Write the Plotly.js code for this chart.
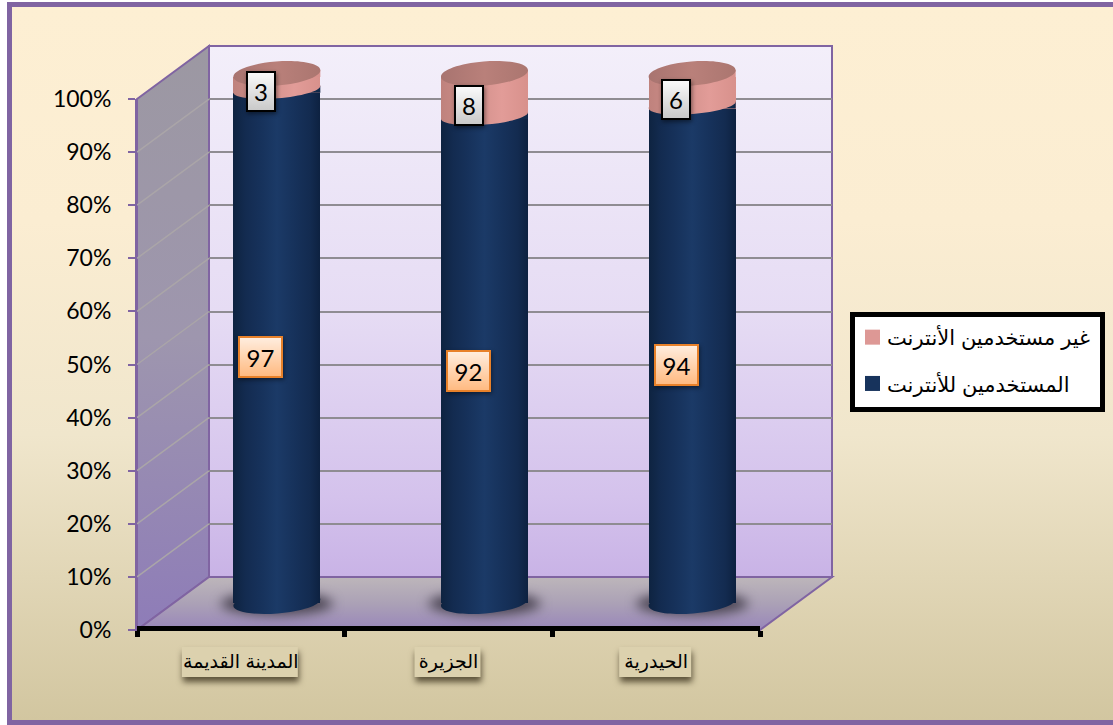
<!DOCTYPE html>
<html><head><meta charset="utf-8">
<script src="https://cdn.plot.ly/plotly-3.0.1.min.js"></script>
<style>html,body{margin:0;padding:0;background:#fff}#c{width:1113px;height:725px}</style>
</head><body><div id="c"></div>
<script>
const categories = ['المدينة القديمة','الجزيرة','الحيدرية'];
const usersName = 'المستخدمين للأنترنت';
const nonUsersName = 'غير مستخدمين الأنترنت';
const users = [97,92,94];
const nonUsers = [3,8,6];
const yTicks = [0,10,20,30,40,50,60,70,80,90,100];
const W=1113,H=725;
const px=x=>x/W, py=y=>1-y/H;
// geometry
const F={l:137,r:760,t:99,b:630}, D={dx:72,dy:-53};
const B={l:F.l+36,r:F.r+36,t0:77,b0:603};           // bars: 100% at t0, 0% at b0
const pad=10, sc=(B.b0-B.t0)/100;
const barW=0.419, hw=barW/2;
const unitX=(F.r-F.l)/3;
const poly=(pts)=>'M'+pts.map(p=>px(p[0])+','+py(p[1])).join('L')+'Z';
const shapes=[], grads={};
function add(s,g){shapes.push(s); if(g) grads[shapes.length-1]=g;}
const PUR='#8064a2';
// page background + frame
add({type:'rect',xref:'paper',yref:'paper',x0:px(7),x1:px(1130),y0:py(725),y1:py(2),fillcolor:PUR,line:{width:0},layer:'below'});
add({type:'rect',xref:'paper',yref:'paper',x0:px(12),x1:px(1130),y0:py(720),y1:py(7),fillcolor:'#f4e9d0',line:{width:0},layer:'below'},'gBg');
// back wall
add({type:'path',xref:'paper',yref:'paper',path:poly([[F.l+D.dx,F.t+D.dy],[F.r+D.dx,F.t+D.dy],[F.r+D.dx,F.b+D.dy],[F.l+D.dx,F.b+D.dy]]),fillcolor:'#e0d4f0',line:{color:PUR,width:2},layer:'below'},'gWall');
// side wall
add({type:'path',xref:'paper',yref:'paper',path:poly([[F.l,F.t],[F.l+D.dx,F.t+D.dy],[F.l+D.dx,F.b+D.dy],[F.l,F.b]]),fillcolor:'#9a92a8',line:{color:PUR,width:2},layer:'below'},'gSide');
// side wall grid
const fy=v=>F.b-(F.b-F.t)*v/100;
yTicks.filter(v=>v>0&&v<100).forEach(v=>{
  add({type:'line',xref:'paper',yref:'paper',x0:px(F.l),y0:py(fy(v)),x1:px(F.l+D.dx),y1:py(fy(v)+D.dy),line:{color:'#aaa5a8',width:1.5},layer:'below'});
});
// floor
add({type:'path',xref:'paper',yref:'paper',path:poly([[F.l,F.b],[F.r,F.b],[F.r+D.dx,F.b+D.dy],[F.l+D.dx,F.b+D.dy]]),fillcolor:'#a89cb8',line:{color:PUR,width:2},layer:'below'},'gFloor');
// boxes behind category labels
const boxW=[116,66,72];
categories.forEach((c,i)=>{
  const cx=F.l+unitX*(i+.5)-1;
  add({type:'rect',xref:'paper',yref:'paper',x0:px(cx-boxW[i]/2),x1:px(cx+boxW[i]/2),y0:py(677),y1:py(647),fillcolor:'#dcd1ae',line:{width:0},layer:'below'},'shadow');
});
// floor shadows
categories.forEach((c,i)=>{
  add({type:'circle',xref:'x3',yref:'y3',x0:i-0.27,x1:i+0.27,y0:-2.3,y1:2.0,fillcolor:'#4a4452',line:{width:0},layer:'below'},'blur');
});
// cylinder ends: cubic-bezier ellipse, tilted up to the right; y is the left rim in data units
const rise=7, TH=Math.atan2(3.5,43.5), a=Math.hypot(43.5,3.5), K=0.5523;
function ell(i,y,b){
  const cx=i, cy=y+(rise/2)/sc;
  const P=(u,v)=>{const X=u*Math.cos(TH)-v*Math.sin(TH),Y=u*Math.sin(TH)+v*Math.cos(TH);return (cx+X/unitX)+' '+(cy+Y/sc);};
  let d='M'+P(-a,0);
  d+=`C${P(-a,-K*b)} ${P(-K*a,-b)} ${P(0,-b)}C${P(K*a,-b)} ${P(a,-K*b)} ${P(a,0)}`;
  d+=`C${P(a,K*b)} ${P(K*a,b)} ${P(0,b)}C${P(-K*a,b)} ${P(-a,K*b)} ${P(-a,0)}`;
  return d+'Z';
}
categories.forEach((c,i)=>{
  const L=i-hw,R=i+hw;
  const ys=users[i], yt=users[i]+nonUsers[i];
  // bottom
  add({type:'path',xref:'x3',yref:'y3',layer:'above',line:{width:0},fillcolor:'#17335c',path:ell(i,-3/sc,11)},'gNavy');
  // seam
  add({type:'path',xref:'x3',yref:'y3',layer:'above',line:{width:0},fillcolor:'#10294a',
    path:`M${L} ${ys}L${R} ${ys+rise/sc}L${R} ${ys}Z`});
  add({type:'path',xref:'x3',yref:'y3',layer:'above',line:{width:0},fillcolor:'#dd9895',path:ell(i,ys,9)},'gPink');
  // top
  add({type:'path',xref:'x3',yref:'y3',layer:'above',line:{width:0},fillcolor:'#d8918c',
    path:`M${L} ${yt}L${R} ${yt+rise/sc}L${R} ${yt}Z`});
  add({type:'path',xref:'x3',yref:'y3',layer:'above',line:{width:0},fillcolor:'#b27b76',path:ell(i,yt,12)},'gCap');
});
// labels
const annotations=[];
categories.forEach((c,i)=>{
  annotations.push({xref:'x2',yref:'y2',x:c,y:users[i]/2,text:String(users[i]),xshift:20,yshift:15,showarrow:false,
    width:41,height:38,bgcolor:'#ffd3ac',bordercolor:'#e8812a',borderwidth:2,borderpad:0,font:{family:'Lato, "Open Sans", sans-serif',size:24,color:'#000'}});
  annotations.push({xref:'x2',yref:'y2',x:c,y:users[i]+nonUsers[i]/2,text:String(nonUsers[i]),xshift:20,yshift:15,showarrow:false,
    width:26,height:37,bgcolor:'#e6e6e6',bordercolor:'#000',borderwidth:2,borderpad:0,font:{family:'Lato, "Open Sans", sans-serif',size:24,color:'#000'}});
});
const traces=[
 {type:'scatter',mode:'none',x:[0],y:[0],xaxis:'x',yaxis:'y',showlegend:false,hoverinfo:'skip'},
 {type:'scatter',mode:'none',x:categories,y:users,xaxis:'x2',yaxis:'y2',showlegend:false,hoverinfo:'skip'},
 {type:'bar',x:categories,y:users,name:usersName,xaxis:'x3',yaxis:'y3',width:barW,marker:{color:'#17335c',line:{width:0}},legendgroup:'a',legendrank:2,hoverinfo:'skip'},
 {type:'bar',x:categories,y:nonUsers,name:nonUsersName,xaxis:'x3',yaxis:'y3',width:barW,marker:{color:'#dd9895',line:{width:0}},legendgroup:'b',legendrank:1,hoverinfo:'skip'}
];
const layout={
 width:W,height:H,margin:{l:0,r:0,t:0,b:0},autosize:false,paper_bgcolor:'#ffffff',plot_bgcolor:'rgba(0,0,0,0)',
 barmode:'stack',barnorm:'percent',
 font:{family:'Lato, "Open Sans", sans-serif',color:'#000'},
 // back-wall grid
 xaxis:{domain:[px(F.l+D.dx),px(F.r+D.dx)],range:[0,3],showgrid:false,zeroline:false,showticklabels:false,ticks:'',showline:false,anchor:'y'},
 yaxis:{domain:[py(F.b+D.dy),py(F.t+D.dy)],range:[0,100],tickmode:'array',tickvals:yTicks.filter(v=>v>0),showgrid:true,gridcolor:'#8f8c92',gridwidth:2,zeroline:false,showticklabels:false,ticks:'',showline:false,anchor:'x'},
 // front axes
 xaxis2:{domain:[px(F.l),px(F.r)],type:'category',categoryorder:'array',categoryarray:categories,range:[-.5,2.5],anchor:'free',position:py(628),showgrid:false,zeroline:false,
   tickson:'boundaries',ticks:'outside',ticklen:6,tickwidth:5,tickcolor:'#000',showline:true,linecolor:'#000',linewidth:5,tickangle:0,ticklabelstandoff:14,
   tickfont:{family:'"Liberation Sans","DejaVu Sans",sans-serif',size:19,color:'#000'}},
 yaxis2:{domain:[py(F.b),py(F.t)],range:[0,100],tickmode:'array',tickvals:yTicks,ticktext:yTicks.map(v=>v+'%'),anchor:'x2',showgrid:false,zeroline:false,
   ticks:'outside',ticklen:7,tickwidth:2,tickcolor:PUR,showline:true,linecolor:PUR,linewidth:2,ticklabelstandoff:12,tickfont:{family:'Lato, "Open Sans", sans-serif',size:23,color:'#000'}},
 // bars (shifted into the depth of the box)
 xaxis3:{domain:[px(B.l),px(B.r)],type:'category',categoryorder:'array',categoryarray:categories,range:[-.5,2.5],anchor:'y3',visible:false},
 yaxis3:{domain:[py(B.b0+pad*sc),py(B.t0-pad*sc)],range:[-pad,100+pad],anchor:'x3',visible:false},
 showlegend:true,
 legend:{x:px(850),y:py(312),xanchor:'left',yanchor:'top',bgcolor:'#fff',bordercolor:'#000',borderwidth:5,
   traceorder:'grouped',tracegroupgap:16,font:{family:'"Liberation Sans","DejaVu Sans",sans-serif',size:21,color:'#000'}},
 shapes,annotations
};
Plotly.newPlot('c',traces,layout,{displayModeBar:false,responsive:false}).then(()=>{
  const svg=document.querySelector('.main-svg');
  const ns='http://www.w3.org/2000/svg';
  let defs=svg.querySelector('defs');
  const mk=(id,stops,horiz)=>{
    const g=document.createElementNS(ns,'linearGradient');
    g.setAttribute('id',id);g.setAttribute('x1','0');g.setAttribute('y1','0');
    g.setAttribute('x2',horiz?'1':'0');g.setAttribute('y2',horiz?'0':'1');
    stops.forEach(s=>{const e=document.createElementNS(ns,'stop');e.setAttribute('offset',s[0]);e.setAttribute('stop-color',s[1]);g.appendChild(e);});
    defs.appendChild(g);
  };
  mk('gBg',[[0,'#fdefd3'],[.3,'#fbedd2'],[.6,'#f0e6cc'],[1,'#d2c6a0']]);
  mk('gWall',[[0,'#f3effa'],[.5,'#e6dcf4'],[.85,'#d4c2ec'],[1,'#c9b3e6']]);
  mk('gSide',[[0,'#9c98a2'],[.5,'#9e96ae'],[1,'#8e7cb8']]);
  mk('gFloor',[[0,'#bdb6ba'],[.5,'#aba1b6'],[1,'#9986ba']]);
  const navy=[[0,'#0e2340'],[.14,'#132b50'],[.3,'#16315a'],[.5,'#1b3a67'],[.72,'#16315a'],[.88,'#132b50'],[1,'#0d2140']];
  mk('gNavy',navy,true);
  mk('gPink',[[0,'#bf827d'],[.35,'#cf8f8a'],[.7,'#e29c98'],[1,'#d8918c']],true);
  mk('gCap',[[0,'#a87470'],[.5,'#b9807a'],[1,'#ab7670']],true);
  mk('gGray',[[0,'#fbfbfb'],[1,'#c8c8c8']]);
  mk('gOrange',[[0,'#ffeee0'],[1,'#ffb97f']]);
  Object.keys(grads).forEach(i=>{
    const el=document.querySelector(`.shapelayer path[data-index="${i}"]`);
    if(!el) return;
    const g=grads[i];
    if(g==='shadow') el.style.filter='drop-shadow(1px 5px 3px rgba(50,40,20,.75))';
    else if(g==='blur') el.style.filter='blur(6px)';
    else el.style.fill=`url(#${g})`;
  });
  document.querySelectorAll('.barlayer .trace').forEach((t,i)=>{
    t.querySelectorAll('.point path').forEach(p=>{p.style.fill=`url(#${i===0?'gNavy':'gPink'})`;});
  });
  document.querySelectorAll('.annotation .bg').forEach(r=>{
    const orange=/e8812a|232, *129, *42/.test(r.style.stroke||'');
    r.style.fill=`url(#${orange?'gOrange':'gGray'})`;
    r.style.filter='drop-shadow(1px 2px 2px rgba(0,0,0,.45))';
  });
  // legend fine-tuning: larger swatches, text closer to them, box size as in the reference
  document.querySelectorAll('.legend .legendpoints path').forEach(p=>{
    const t=p.getAttribute('transform')||'';
    p.setAttribute('transform',t.replace(/translate\(\s*[\d.]+/,'translate(17.5')+' scale(1.25)');
  });
  document.querySelectorAll('.legend text.legendtext').forEach(t=>{
    t.setAttribute('x',parseFloat(t.getAttribute('x'))-8);
  });
  const bg=document.querySelector('.legend rect.bg');
  if(bg){
    bg.setAttribute('width',parseFloat(bg.getAttribute('width'))-4);
    bg.setAttribute('height',parseFloat(bg.getAttribute('height'))+3);
  }
});
</script></body></html>
